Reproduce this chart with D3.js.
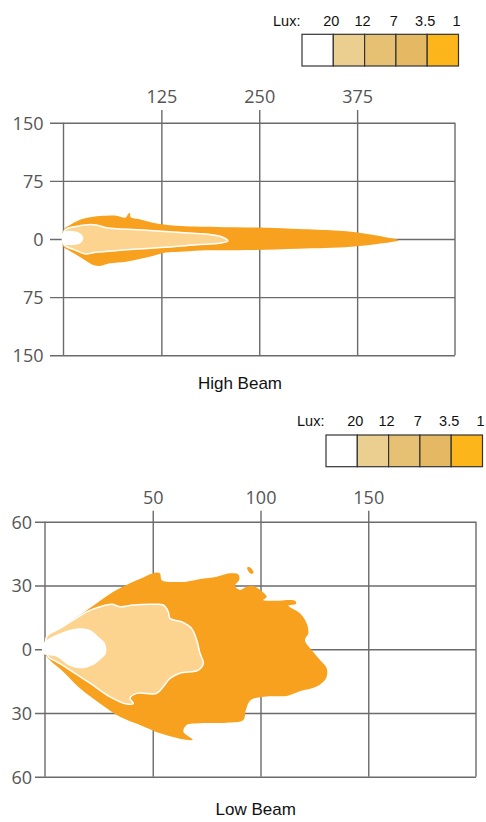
<!DOCTYPE html>
<html>
<head>
<meta charset="utf-8">
<script src="https://cdn.jsdelivr.net/npm/d3@7"></script>
<style>
  body { margin: 0; background: #fff; }
  svg { display: block; }
  .tick text { font-family: "Open Sans", sans-serif; font-size: 18px; fill: #555; }
  .tick line, .frame { stroke: #6b6b6b; stroke-width: 1.4; }
  .title { font-family: "Liberation Sans", Arial, sans-serif; font-size: 17px; fill: #111; }
  .lux { font-family: "Liberation Sans", Arial, sans-serif; font-size: 14.5px; fill: #111; }
</style>
</head>
<body>
<svg id="chart" width="486" height="822"></svg>
<script>
// legend
var luxLabels = ["20", "12", "7", "3.5", "1"];
var luxColors = ["#ffffff", "#ebcf91", "#e6c174", "#e5b864", "#fdb51c"];

// high beam (distance m / width m)
var highXTicks = [125, 250, 375];
var highYTicks = [150, 75, 0, -75, -150];
var highOuter = [[0,11.6],[10,19],[23,25.4],[38,28.8],[55,30],[68,30],[79,27.5],[82.5,32],[84.7,34],[86,28],[97,25.4],[114,21],[144,17],[195,15.5],[258,14.5],[301,12.9],[346,11],[367,9.4],[400,4.5],[415,1.5],[428,-1.5],[407,-5.6],[367,-10],[300,-12.5],[240,-14.2],[175,-14.8],[148,-16.5],[131,-17.5],[115,-21.5],[97,-25.8],[80,-29.2],[59,-31.4],[46.5,-34.8],[38,-33.5],[27,-27],[17,-20.6],[6,-14.2],[0,-10]];
var highInner = [[0.5,9],[4,13],[12,15.5],[21,17.2],[32,18.5],[42,18],[55,14.5],[75,13],[110,11],[150,8.5],[185,6],[200,3.5],[210,-2.6],[199,-5.6],[170,-7.5],[140,-10],[100,-12.5],[76,-14.2],[50,-16.5],[38,-17.6],[30,-19.5],[25,-18.5],[14,-14],[4,-10],[0.5,-7]];
var highCore = [[-1,8],[5,10.5],[14,10],[21,7.5],[25,3],[25,-1],[22,-5],[15,-7.5],[6,-7.7],[-1,-6]];

// low beam
var lowXTicks = [50, 100, 150];
var lowYTicks = [60, 30, 0, -30, -60];
var lowOuter = [[0.5,5.6],[5.4,8.2],[10,11.9],[16.2,16.1],[24,21.6],[31.7,27],[39.4,31],[45.6,33.8],[51,36],[53.3,35.7],[54.1,32.6],[56.5,31.8],[65.7,31.8],[72,33],[79.7,34.1],[85.8,35.7],[89.7,35.2],[90.2,32.9],[88.2,29.7],[90.5,27.9],[93.6,29.4],[96.7,29.7],[99.8,27.9],[102.9,24.7],[101.3,23.2],[107.5,22.8],[116,22.8],[116.5,21.3],[113,20.5],[118.3,16.9],[121.4,12.2],[122.2,7.5],[120.6,4.3],[123.7,-0.4],[127.6,-5.1],[130.7,-9],[130.5,-13.5],[126,-17.6],[118.3,-19.8],[112.2,-22],[102.9,-22.2],[95.5,-23.9],[93.2,-28.6],[92,-33.3],[84.3,-34.6],[72,-34.9],[65.7,-35.7],[64.2,-38.8],[68.5,-42.6],[62.6,-42.1],[53.4,-39.6],[44.1,-35.7],[34.8,-31.8],[25.5,-25.5],[16.2,-18.4],[8.5,-10.6],[2.2,-5.1],[0,-1.9]];
var lowSpot = [[93.8,38.4],[95,38.6],[96.8,36.2],[96,35.4],[94.5,36.5]];
var lowInner = [[0.8,5.9],[7,9.8],[13.1,13.7],[19.3,17.6],[25.5,20],[31,21.1],[34.8,20],[41,20.8],[50.3,21.1],[54.9,20.8],[57.2,17.6],[58,14.5],[63.4,12.9],[68,9.8],[70.4,4.3],[71.9,-1.9],[73.5,-6.6],[71.2,-9.8],[62.6,-11.3],[58,-13.7],[54.9,-17.6],[51.8,-20.8],[42.6,-20.8],[39.4,-23.1],[41,-25.5],[37.9,-25.8],[30.2,-22.4],[20.9,-16],[11.6,-9.8],[5.4,-5.9],[1.5,-3.5]];
var lowCore = [[-1,2],[0.8,4.3],[7,7.5],[14.7,9.8],[20.9,9],[24.7,5.9],[27.8,2.8],[28.3,-1.9],[26.3,-4.3],[22.4,-7.4],[16.2,-9],[10.8,-7.4],[5.4,-3.5],[-1,-2]];

var svg = d3.select("#chart");

function drawChart(o) {
    var x = d3.scaleLinear().domain(o.xDomain).range([o.left, o.right]);
    var y = d3.scaleLinear().domain(o.yDomain).range([o.bottom, o.top]);
    var g = svg.append("g");

    // horizontal grid + left labels
    g.append("g")
        .attr("transform", "translate(" + (o.left - o.tickOut) + ",0)")
        .call(d3.axisLeft(y).tickValues(o.yTicks)
            .tickSize(-(o.right - o.left + o.tickOut))
            .tickPadding(o.labelPad)
            .tickFormat(function (d) { return Math.abs(d); }))
        .call(function (a) { a.select(".domain").remove(); })
        .selectAll("text").attr("dy", "0.36em");

    // vertical grid + top labels
    g.append("g")
        .attr("transform", "translate(0," + (o.top - o.tickUp) + ")")
        .call(d3.axisTop(x).tickValues(o.xTicks)
            .tickSize(-(o.bottom - o.top + o.tickUp))
            .tickPadding(o.topPad))
        .call(function (a) { a.select(".domain").remove(); })
        .selectAll("text").attr("dy", 0);

    // left/right frame
    g.selectAll("line.frame")
        .data(o.xDomain)
        .enter().append("line")
        .attr("class", "frame")
        .attr("x1", function (d) { return x(d); })
        .attr("x2", function (d) { return x(d); })
        .attr("y1", o.top).attr("y2", o.bottom);

    var line = d3.line()
        .x(function (d) { return x(d[0]); })
        .y(function (d) { return y(d[1]); })
        .curve(d3.curveCatmullRomClosed.alpha(0.5));

    o.shapes.forEach(function (s) {
        g.append("path")
            .attr("d", line(s.pts))
            .attr("fill", s.fill)
            .attr("stroke", s.stroke || "none")
            .attr("stroke-width", 1.5);
    });

    g.append("text").attr("class", "title")
        .attr("x", o.titleX).attr("y", o.titleY)
        .attr("text-anchor", "middle")
        .text(o.title);
}

function drawLegend(x0, y0) {
    var bw = 31.3, bh = 31.7;
    var g = svg.append("g").attr("transform", "translate(" + x0 + "," + y0 + ")");
    g.selectAll("rect")
        .data(luxColors)
        .enter().append("rect")
        .attr("x", function (d, i) { return i * bw; })
        .attr("y", 0)
        .attr("width", bw).attr("height", bh)
        .attr("fill", function (d) { return d; })
        .attr("stroke", "#333").attr("stroke-width", 1.2);
    g.selectAll("text.v")
        .data(luxLabels)
        .enter().append("text")
        .attr("class", "lux v")
        .attr("x", function (d, i) { return (i + 1) * bw - 2; })
        .attr("y", -8.8)
        .attr("text-anchor", "middle")
        .text(function (d) { return d; });
    g.append("text").attr("class", "lux")
        .attr("x", -29).attr("y", -8.8)
        .text("Lux:");
}

var orange = "#f8a11e", light = "#fdd48f";

drawLegend(302, 34.3);
drawChart({
    xDomain: [0, 500], yDomain: [-150, 150],
    left: 63.5, right: 455, top: 122.7, bottom: 355.3,
    tickOut: 13.5, labelPad: 6.5, tickUp: 12.7, topPad: 7.3,
    xTicks: highXTicks, yTicks: highYTicks,
    shapes: [
        { pts: highOuter, fill: orange },
        { pts: highInner, fill: light, stroke: "#fff" },
        { pts: highCore, fill: "#fff" }
    ],
    title: "High Beam", titleX: 240, titleY: 389
});

drawLegend(326, 435);
drawChart({
    xDomain: [0, 200], yDomain: [-60, 60],
    left: 45, right: 476, top: 521.7, bottom: 776.7,
    tickOut: 10, labelPad: 3, tickUp: 11, topPad: 6.7,
    xTicks: lowXTicks, yTicks: lowYTicks,
    shapes: [
        { pts: lowOuter, fill: orange },
        { pts: lowSpot, fill: orange },
        { pts: lowInner, fill: light, stroke: "#fff" },
        { pts: lowCore, fill: "#fff" }
    ],
    title: "Low Beam", titleX: 255.7, titleY: 815
});
</script>
</body>
</html>
